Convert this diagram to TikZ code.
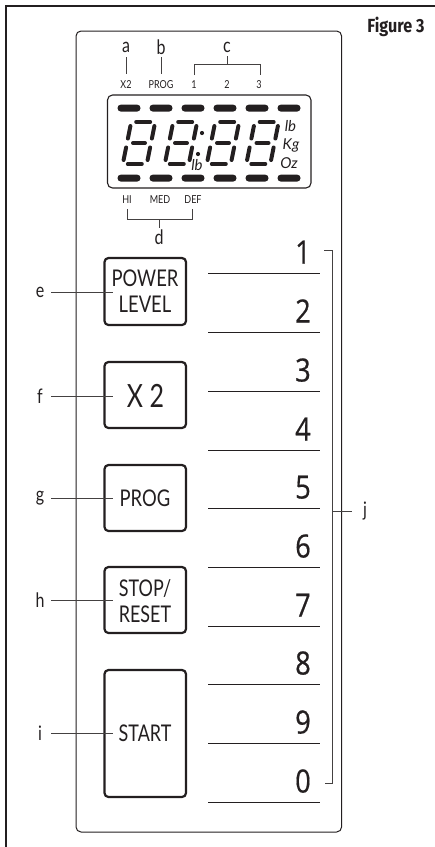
\documentclass[tikz,border=0pt]{standalone}
\usepackage{graphicx}
\usepackage{fontspec}
\setmainfont{Lato}
\newfontfamily\figfont{Fira Sans}
\newfontfamily\numfont[FakeBold=0.6]{Open Sans}
\newcommand{\sxx}[2]{\scalebox{#1}[1]{#2}}
\definecolor{ink}{HTML}{231F20}
\tikzset{
  x=1pt,y=-1pt,
  frameline/.style={draw=ink,line width=2.4pt},
  panel/.style={draw=ink,line width=1pt,rounded corners=5pt},
  btn/.style={draw=ink,line width=2.2pt,rounded corners=4pt},
  leader/.style={draw=ink!85,line width=0.9pt},
  numline/.style={draw=ink,line width=1pt},
  tag/.style={text=ink,font=\fontsize{20}{22}\selectfont,inner sep=0pt},
  small/.style={text=ink,font=\fontsize{11}{12}\selectfont,inner sep=0pt},
  btntext/.style={text=ink,font=\fontsize{23}{27}\selectfont,inner sep=0pt,align=center},
  numtext/.style={text=ink,font=\numfont\fontsize{32}{34}\selectfont,inner sep=0pt},
  unit/.style={text=ink,font=\itshape\fontsize{15}{16}\selectfont,inner sep=0pt},
  seg/.style={draw=ink,line width=4pt,line cap=round},
  pill/.style={fill=ink,rounded corners=3.4pt}
}
\newcommand{\oneseg}[5]{\draw[seg] ({#1+(#2)-0.2*(#3)},{143+(#3)})--({#1+(#4)-0.2*(#5)},{143+(#5)});}
\newcommand{\segdigit}[1]{%
  \oneseg{#1}{-7}{-21}{7}{-21}
  \oneseg{#1}{-6}{0}{6}{0}
  \oneseg{#1}{-7}{21}{7}{21}
  \oneseg{#1}{-12}{-17}{-12}{-4.5}
  \oneseg{#1}{12}{-17}{12}{-4.5}
  \oneseg{#1}{-12}{4.5}{-12}{17}
  \oneseg{#1}{12}{4.5}{12}{17}}
\begin{document}
\begin{tikzpicture}
\useasboundingbox (0,0) rectangle (435,847);
% outer frame
\coordinate (frameTR) at (435,6);
\coordinate (frameTL) at (6,6);
\coordinate (frameBL) at (6,847);
\draw[frameline] (frameBL)--(frameTL)--(frameTR);
\node[text=ink,font=\figfont\bfseries\fontsize{19}{20}\selectfont,inner sep=0pt] (fig) at (396,27) {\sxx{.85}{Figure 3}};
% panel
\draw[panel] (76,31) rectangle (341.6,832);
% display
\draw[panel,line width=1.1pt] (107.5,95) rectangle (311,188);
\foreach \n/\px in {1/129,2/161,3/193,4/225,5/257,6/289}{
  \fill[pill] (\px-11.5,104.6) rectangle (\px+11.5,111.6);
  \fill[pill] (\px-11.5,174.6) rectangle (\px+11.5,181.6);
}
\segdigit{139}\segdigit{181}\segdigit{223}\segdigit{262.5}
\fill[ink] (202,133) circle (2.1pt);
\fill[ink] (198,154) circle (2.1pt);
\node[unit] (ibs) at (197,165) {lb};
\node[unit] (ib) at (290.5,126) {lb};
\node[unit] (kg) at (291,145) {Kg};
\node[unit] (oz) at (289,163) {Oz};
% top labels
\node[tag] (a) at (126,47) {\sxx{.8}{a}};
\node[tag] (b) at (161,47) {\sxx{.8}{b}};
\node[tag] (c) at (227,47) {\sxx{.8}{c}};
\node[small] (sx) at (126,85) {\sxx{.82}{X2}};
\node[small] (sp) at (161,85) {\sxx{.82}{PROG}};
\node[small] (s1) at (194,85) {\sxx{.82}{1}};
\node[small] (s2) at (227,85) {\sxx{.82}{2}};
\node[small] (s3) at (259,85) {\sxx{.82}{3}};
\coordinate (atip) at (126,57);
\coordinate (aend) at (126,74);
\draw[leader] (atip)--(aend);
\coordinate (btip) at (161.5,57);
\coordinate (bend) at (161.5,74);
\draw[leader] (btip)--(bend);
\coordinate (ctip) at (227,56);
\coordinate (cb) at (227,64);
\draw[leader] (ctip)--(cb);
\draw[leader] (194,75)--(194,64)--(260,64)--(260,75);
% lower small labels
\node[small] (hi) at (127,200) {\sxx{.82}{HI}};
\node[small] (med) at (160,200) {\sxx{.82}{MED}};
\node[small] (def) at (193,200) {\sxx{.82}{DEF}};
\node[tag] (d) at (159,237) {\sxx{.8}{d}};
\draw[leader] (127,209)--(127,219)--(192,219)--(192,209);
\coordinate (dtip) at (159,228);
\coordinate (db) at (159,219);
\draw[leader] (db)--(dtip);
% buttons
\draw[btn] (104.5,258) rectangle (186,325);
\draw[btn] (104.5,362) rectangle (186,428);
\draw[btn] (104.5,465) rectangle (186,531);
\draw[btn] (104.5,567) rectangle (186,633);
\draw[btn] (104.5,670) rectangle (186,797);
\node[btntext] (power) at (145,291) {\sxx{.8}{POWER}\\[-1pt]\sxx{.8}{LEVEL}};
\node[text=ink,font=\fontsize{32}{34}\selectfont,inner sep=0pt] (x2) at (145.5,396) {\sxx{.78}{X 2}};
\node[btntext] (prog) at (145,498) {\sxx{.8}{PROG}};
\node[btntext] (stop) at (145,601) {\sxx{.78}{STOP/}\\[-1pt]\sxx{.78}{RESET}};
\node[btntext] (start) at (145,733) {\sxx{.78}{START}};
% left labels
\foreach \nm/\py in {e/292.5,f/396,g/498,h/600,i/733}{
  \node[tag] (\nm) at (40,\py) {\sxx{.8}{\nm}};
  \coordinate (\nm tip) at (51,\py);
  \coordinate (\nm end) at (113,\py);
  \draw[leader] (\nm tip)--(\nm end);
}
% number lines
\foreach \tx/\py in {1/273,2/332,3/391,4/450,5/508,6/567,7/626,8/684,9/743,0/802}{
  \draw[numline] (208,\py)--(320,\py);
  \node[numtext,anchor=base] (n\tx) at (303,\py-9.5) {\sxx{.85}{\tx}};
}
% j bracket
\coordinate (jtop) at (324,250);
\coordinate (jbot) at (325,783);
\coordinate (jmid) at (332,511);
\draw[leader] (jtop)--(332,250)--(332,783)--(jbot);
\node[tag] (j) at (365,511) {\sxx{.8}{j}};
\coordinate (jtip) at (352,511);
\draw[leader] (jmid)--(jtip);
\end{tikzpicture}
\end{document}
